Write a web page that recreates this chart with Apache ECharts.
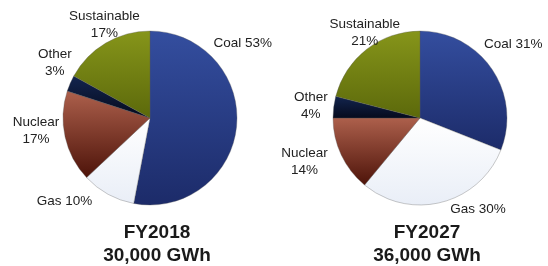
<!DOCTYPE html>
<html>
<head>
<meta charset="utf-8">
<script src="https://cdn.jsdelivr.net/npm/echarts@6/dist/echarts.min.js"></script>
<style>
  html, body { margin: 0; padding: 0; background: #fff; }
  #chart { width: 548px; height: 266px; }
</style>
</head>
<body>
<div id="chart"></div>
<script>
// fuel mix, percent of generation
var sources = ["Coal", "Gas", "Nuclear", "Other", "Sustainable"];
var mix2018 = [53, 10, 17, 3, 17];
var mix2027 = [31, 30, 14, 4, 21];
var years = ["FY2018", "FY2027"];
var totals = ["30,000 GWh", "36,000 GWh"];

var font = "'Liberation Sans', Arial, sans-serif";

// nudges for the outside labels (dx, dy), same order as sources
var nudge2018 = [[-36, -83], [-6, 2], [7, -8], [14, -18], [44, -13]];
var nudge2027 = [[-20, -21], [0, 1], [-1, 4], [7, -1], [44, -12]];

// shaded slice fills, top -> bottom
function shade(top, bottom) {
    return new echarts.graphic.LinearGradient(0, 0, 0, 1, [
        { offset: 0, color: top },
        { offset: 1, color: bottom }
    ]);
}
var fills = {
    Coal: shade("#344e9f", "#1c2b69"),
    Gas: shade("#ffffff", "#e9eef7"),
    Nuclear: shade("#ad604c", "#4d1309"),
    Other: shade("#13254f", "#050a1c"),
    Sustainable: shade("#86951a", "#5c690b")
};
var oneLine = { Coal: true, Gas: true };

function pieSeries(values, center, nudge) {
    return {
        type: "pie",
        center: center,
        radius: 87,
        startAngle: 90,
        clockwise: true,
        avoidLabelOverlap: false,
        animation: false,
        itemStyle: { borderColor: "rgba(90,90,90,0.55)", borderWidth: 0.6 },
        label: {
            position: "outside",
            fontFamily: font,
            fontSize: 13.5,
            color: "#222",
            lineHeight: 17,
            formatter: function (p) {
                if (oneLine[p.name]) return "{t|" + p.name + " " + p.value + "%}";
                return "{t|" + p.name + "}\n{t|" + p.value + "%}";
            },
            rich: { t: { align: "center", fontFamily: font, fontSize: 13.5, color: "#222", lineHeight: 17 } }
        },
        labelLine: { show: false, length: 6, length2: 2 },
        labelLayout: function (p) {
            var s = nudge[p.dataIndex];
            return s ? { dx: s[0], dy: s[1] } : {};
        },
        data: sources.map(function (name, i) {
            return { name: name, value: values[i], itemStyle: { color: fills[name] } };
        })
    };
}

var chart = echarts.init(document.getElementById("chart"), null, { renderer: "canvas" });
chart.setOption({
    backgroundColor: "#fff",
    title: years.map(function (y, i) {
        return {
            text: y + "\n" + totals[i],
            left: i === 0 ? 152 : 422,
            top: 216,
            textAlign: "center",
            textStyle: { fontFamily: font, fontSize: 19, fontWeight: "bold", color: "#1a1a1a", lineHeight: 23 }
        };
    }),
    series: [
        pieSeries(mix2018, [150, 118], nudge2018),
        pieSeries(mix2027, [420, 118], nudge2027)
    ]
});
</script>
</body>
</html>
